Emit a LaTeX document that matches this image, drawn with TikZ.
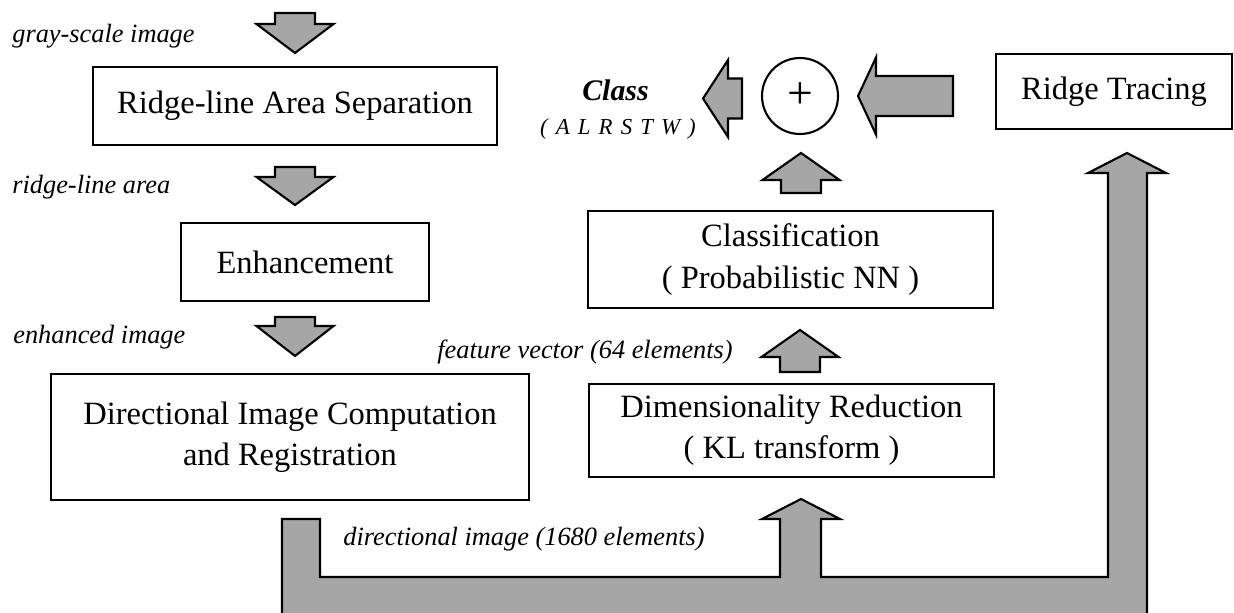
\documentclass[tikz,border=0pt]{standalone}
\usepackage{fontspec}
\setmainfont{Liberation Serif}
\usetikzlibrary{positioning,calc}
\definecolor{arrgray}{RGB}{166,166,166}

\tikzset{
  stage/.style={draw, line width=1.2pt, align=center, inner sep=0pt, font=\fontsize{18.5}{23.5}\selectfont},
  lbl/.style={anchor=base west, inner sep=0pt, font=\fontsize{15}{18}\selectfont\itshape},
  fatfill/.style={draw, line width=1.2pt, fill=arrgray, line join=miter},
  pics/blockarrow/.style 2 args={code={
    \draw[fatfill] (0,-20) -- ({#1-#2},-20) -- ({#1-#2},-38.5) -- (#1,0) -- ({#1-#2},38.5) -- ({#1-#2},20) -- (0,20) -- cycle;}}
}

\begin{document}
\begin{tikzpicture}[x=0.02cm, y=0.02cm]
\useasboundingbox (0,0) rectangle (1234,-612);
% left column
\node[stage, minimum width=8.08cm, minimum height=1.56cm] (sep) at (295,-106) {Ridge-line Area Separation};
\node[stage, minimum width=4.96cm, minimum height=1.56cm] (enh) at (305,-262) {Enhancement};
\node[stage, minimum width=9.56cm, minimum height=2.52cm] (dir) at (290,-437) {Directional Image Computation\\and Registration};
% right column
\node[stage, minimum width=8.1cm, minimum height=1.86cm] (dim) at (791.5,-430.5) {Dimensionality Reduction\\( KL transform )};
\node[stage, minimum width=8.1cm, minimum height=1.94cm] (cls) at (790.5,-259.5) {Classification\\( Probabilistic NN )};
\node[stage, minimum width=4.72cm, minimum height=1.5cm] (trace) at (1114,-91.5) {Ridge Tracing};
\node[circle, draw, line width=1.2pt, minimum size=1.52cm, inner sep=0pt, font=\fontsize{26}{26}\selectfont] (plus) at (800,-96) {+};
% labels
\node[lbl] (gray) at (12,-42) {gray-scale image};
\node[lbl] (ridge) at (12,-193) {ridge-line area};
\node[lbl] (enhimg) at (13,-343) {enhanced image};
\node[lbl] (feat) at (437,-358) {feature vector (64 elements)};
\node[lbl] (dirimg) at (343,-545) {directional image (1680 elements)};
\node[anchor=base, inner sep=0pt, font=\fontsize{17}{20}\selectfont\bfseries\itshape] (result) at (615.5,-100) {Class};
\node[anchor=base, inner sep=0pt, font=\fontsize{13}{15}\selectfont\itshape] (classes) at (618,-134) {\spaceskip=4.6pt\relax( A L R S T W )};
% block arrows
\pic[rotate=-90] at (295,-13) {blockarrow={40}{29}};
\pic[rotate=-90] at (295,-167) {blockarrow={38}{28}};
\pic[rotate=-90] at (295,-317) {blockarrow={39}{30}};
\pic[rotate=90] at (800,-372) {blockarrow={42}{27}};
\pic[rotate=90] at (801,-193) {blockarrow={40}{27}};
\pic[rotate=180] at (953,-96) {blockarrow={95}{18}};
\pic[rotate=180] at (742,-98.5) {blockarrow={39}{25}};
% directional image feed
\draw[fatfill] (282,-519) -- (320,-519) -- (320,-577) -- (780,-577) -- (780,-519) -- (762,-519) -- (801,-499) -- (840,-519) -- (821,-519) -- (821,-577) -- (1108,-577) -- (1108,-173) -- (1088,-173) -- (1127,-153) -- (1166,-173) -- (1147,-173) -- (1147,-620) -- (282,-620) -- cycle;
\end{tikzpicture}
\end{document}
